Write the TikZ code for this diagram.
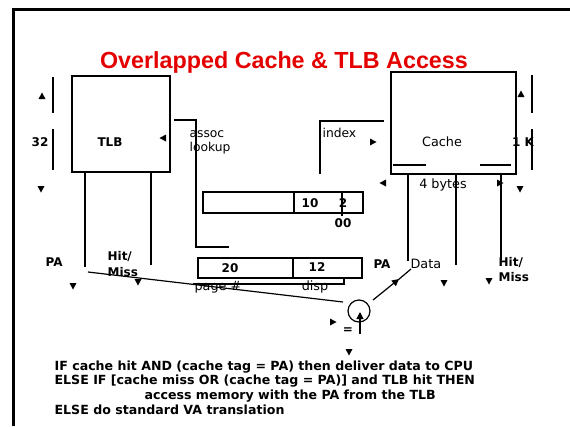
\documentclass[tikz,border=0pt]{standalone}
\usepackage{fontspec}
\setmainfont{DejaVu Sans}
\newfontfamily\titlefont{Liberation Sans}
\usetikzlibrary{arrows.meta}
\tikzset{
  ahR/.pic={\fill (3.5,0) -- (-3,-3.5) -- (-3,3.5) -- cycle;},
  ahL/.pic={\fill (-3.5,0) -- (3,-3.5) -- (3,3.5) -- cycle;},
  ahU/.pic={\fill (0,-3.5) -- (-3.5,3) -- (3.5,3) -- cycle;},
  ahD/.pic={\fill (0,3.5) -- (-3.5,-3) -- (3.5,-3) -- cycle;},
}
\begin{document}
\begin{tikzpicture}[x=1pt,y=-1pt,line width=1.2pt,
  lbl/.style={font=\bfseries\fontsize{12}{14}\selectfont,inner sep=0pt},
  lbr/.style={font=\fontsize{12.8}{14}\selectfont,inner sep=0pt},
  small/.style={font=\fontsize{12.3}{14}\selectfont,inner sep=0pt,align=left},
  body/.style={font=\bfseries\fontsize{12.6}{14}\selectfont,inner sep=0pt,anchor=west},
  blk/.style={draw,inner sep=0pt}]
\useasboundingbox (0,0) rectangle (570,426);
\fill[white] (0,0) rectangle (570,426);
% frame
\draw[line width=3pt] (13,426) -- (13,9) -- (570,9);
% title
\node[font=\titlefont\bfseries\fontsize{23.3}{25}\selectfont,text=red!90!black,inner sep=0pt,anchor=base] (title) at (284,68) {Overlapped Cache \& TLB Access};
% TLB
\node[blk,minimum width=98pt,minimum height=96pt] (tlb) at (121,124) {};
\node[lbl] (tlbl) at (110,142) {TLB};
% Cache
\node[blk,minimum width=125pt,minimum height=102pt] (cache) at (453.5,123) {};
\node[lbr] (cachel) at (442,142) {Cache};
\draw (393,165) -- (426,165);
\draw (480,165) -- (511,165);
% left dimension
\draw (53,77) -- (53,113);
\draw (53,129) -- (53,170);
\node[lbl] (d32) at (40,142) {32};
\pic at (42,96) {ahU};
\pic at (41,189) {ahD};
% right dimension
\draw (532,75) -- (532,113);
\draw (532,129) -- (532,170);
\node[lbl] (d1k) at (523,142) {1 K};
\pic at (521,94) {ahU};
\pic at (520,189) {ahD};
% assoc lookup
\pic at (163,138) {ahL};
\draw (174,120) -- (196,120) -- (196,247) -- (229,247);
\node[small,anchor=west] (assoc) at (189,142) {assoc\\lookup};
% index
\draw (320,174) -- (320,121) -- (384,121);
\node[small,anchor=west] (index) at (322,133) {index};
\pic at (373,142) {ahR};
% 4 bytes
\node[lbr] (bytes) at (443,185) {4 bytes};
\pic at (383,183) {ahL};
\pic at (500,183) {ahR};
% upper address box
\draw (203,192) rectangle (363,213);
\draw (294,192) -- (294,213);
\draw (342,192) -- (342,216);
\node[lbl] (n10) at (310,203) {10};
\node[lbl] (n2) at (343,203) {2};
\node[lbl] (n00) at (343,223) {00};
% lower address box
\draw (198,258) rectangle (362,278);
\draw (293,258) -- (293,278);
\node[lbl] (n20) at (230,268) {20};
\node[lbl] (n12) at (317,267) {12};
\draw (193,284) -- (344,284) -- (344,278);
\node[lbr] (page) at (218,287) {page \#};
\node[lbr] (disp) at (315,287) {disp};
\node[lbl] (pa2) at (382,264) {PA};
% TLB outputs
\draw (85,172) -- (85,267);
\draw (151,172) -- (151,265);
\node[lbl,anchor=west] (pa1) at (45,262) {PA};
\node[lbl,anchor=west,align=left,font=\bfseries\fontsize{12}{16}\selectfont] (hm1) at (107,264) {Hit/\\Miss};
\pic at (73,286) {ahD};
\pic at (138,282) {ahD};
% cache outputs
\draw (408,174) -- (408,261);
\draw (456,174) -- (456,265);
\draw (501,174) -- (501,260);
\node[lbr,anchor=west] (data) at (410,264) {Data};
\node[lbl,anchor=west,align=left,font=\bfseries\fontsize{12}{15}\selectfont] (hm2) at (498,270) {Hit/\\Miss};
\pic at (444,283) {ahD};
\pic at (489,281) {ahD};
% comparator
\node[draw,circle,minimum size=22pt,inner sep=0pt] (cmp) at (359,311) {};
\coordinate (paout) at (88,272);
\draw (paout) -- (343,302);
\draw[-{Triangle[length=7pt,width=7pt]}] (360,334) -- (360,312);
\coordinate (dtop) at (411,269);
\draw[-{Triangle[length=7pt,width=7pt]}] (373,300) -- (399,279);
\draw (398,280) -- (dtop);
\pic at (333,322) {ahR};
\node[lbl] (eq) at (348,331) {=};
\pic at (349,352) {ahD};
% text
\node[body] (t1) at (54,367) {IF cache hit AND (cache tag = PA) then deliver data to CPU};
\node[body] (t2) at (54,381) {ELSE IF [cache miss OR (cache tag = PA)] and TLB hit THEN};
\node[body] (t3) at (144,396) {access memory with the PA from the TLB};
\node[body] (t4) at (54,410) {ELSE do standard VA translation};
\end{tikzpicture}
\end{document}
